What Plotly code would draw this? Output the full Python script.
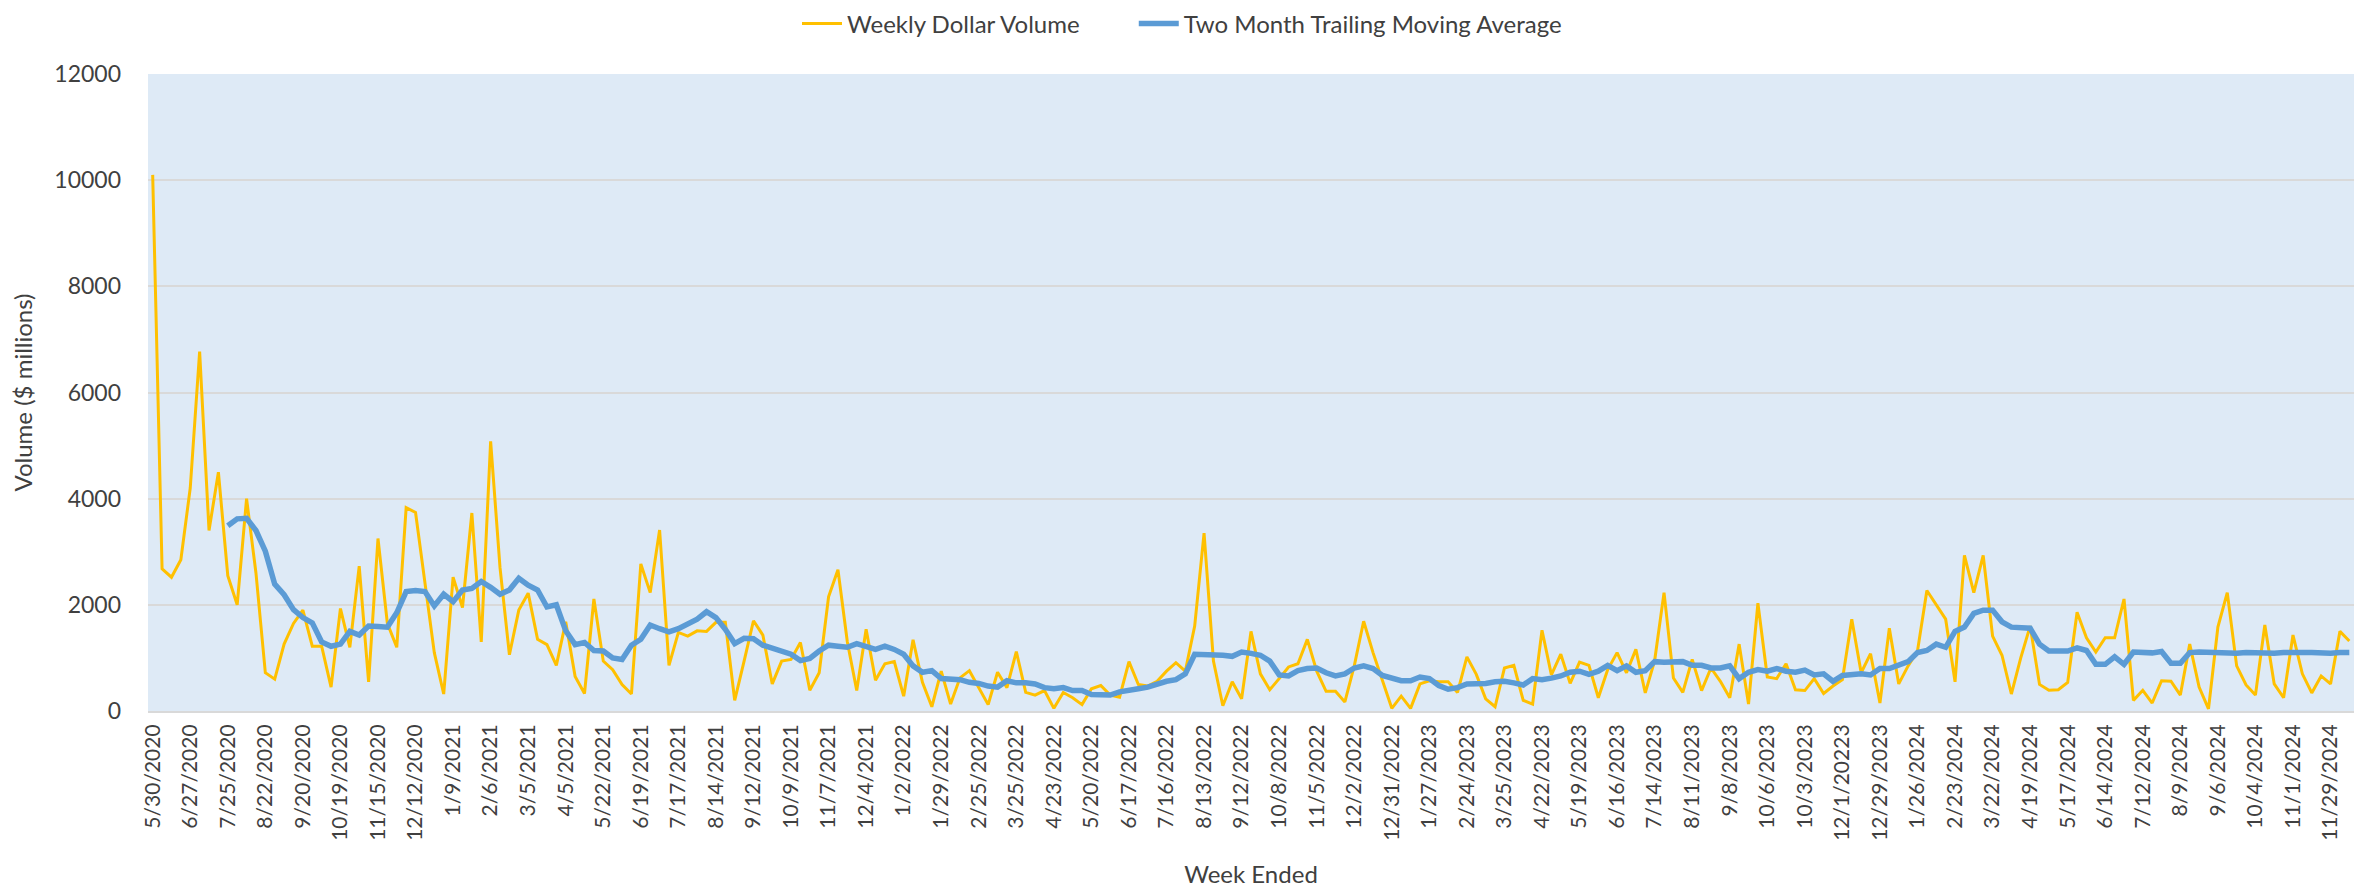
import plotly.graph_objects as go

# Tick labels (every 4th week)
tick_labels = [
    "5/30/2020", "6/27/2020", "7/25/2020", "8/22/2020", "9/20/2020", "10/19/2020",
    "11/15/2020", "12/12/2020", "1/9/2021", "2/6/2021", "3/5/2021", "4/5/2021",
    "5/22/2021", "6/19/2021", "7/17/2021", "8/14/2021", "9/12/2021", "10/9/2021",
    "11/7/2021", "12/4/2021", "1/2/2022", "1/29/2022", "2/25/2022", "3/25/2022",
    "4/23/2022", "5/20/2022", "6/17/2022", "7/16/2022", "8/13/2022", "9/12/2022",
    "10/8/2022", "11/5/2022", "12/2/2022", "12/31/2022", "1/27/2023", "2/24/2023",
    "3/25/2023", "4/22/2023", "5/19/2023", "6/16/2023", "7/14/2023", "8/11/2023",
    "9/8/2023", "10/6/2023", "10/3/2023", "12/1/20223", "12/29/2023", "1/26/2024",
    "2/23/2024", "3/22/2024", "4/19/2024", "5/17/2024", "6/14/2024", "7/12/2024",
    "8/9/2024", "9/6/2024", "10/4/2024", "11/1/2024", "11/29/2024",
]

weekly_volume = [
    10100, 2680, 2520, 2850, 4200, 6770, 3400, 4500, 2550, 2000,
    4000, 2600, 720, 600, 1260, 1650, 1900, 1220, 1220, 450,
    1930, 1200, 2730, 550, 3250, 1650, 1200, 3830, 3740, 2450,
    1100, 320, 2520, 1950, 3730, 1300, 5080, 2700, 1060, 1900,
    2220, 1350, 1250, 860, 1680, 650, 330, 2110, 940, 780,
    500, 320, 2770, 2230, 3410, 860, 1480, 1410, 1510, 1500,
    1670, 1670, 200, 940, 1700, 1430, 510, 940, 970, 1290,
    390, 720, 2150, 2660, 1300, 385, 1540, 580, 890, 930,
    280, 1340, 540, 80, 750, 130, 625, 760, 435, 120,
    730, 440, 1120, 350, 300, 385, 50, 350, 250, 120,
    420, 480, 300, 260, 930, 500, 470, 560, 750, 910,
    750, 1600, 3350, 940, 100, 550, 230, 1500, 700, 400,
    610, 830, 890, 1350, 750, 370, 370, 170, 850, 1690,
    1100, 590, 50, 280, 50, 510, 570, 550, 550, 350,
    1020, 690, 230, 80, 810, 860, 200, 130, 1520, 680,
    1070, 520, 920, 860, 250, 780, 1100, 720, 1160, 340,
    950, 2230, 620, 350, 970, 385, 810, 560, 250, 1260,
    130, 2030, 640, 610, 890, 400, 385, 610, 330, 470,
    590, 1730, 720, 1080, 150, 1560, 510, 850, 1130, 2270,
    2010, 1730, 550, 2930, 2230, 2930, 1410, 1050, 320, 1000,
    1600, 500, 390, 400, 540, 1860, 1380, 1110, 1380, 1380,
    2110, 200, 390, 150, 570, 560, 300, 1260, 450, 40,
    1580, 2230, 850, 490, 300, 1620, 510, 250, 1430, 700,
    340, 660, 510, 1500, 1320,
]

moving_average = [
    None, None, None, None, None, None, None, None, 3490, 3620,
    3630, 3400, 3010, 2390, 2190, 1910, 1760, 1660, 1300, 1220,
    1260, 1500, 1430, 1600, 1590, 1580, 1850, 2250, 2270, 2250,
    1980, 2200, 2060, 2280, 2310, 2440, 2330, 2200, 2280, 2500,
    2370, 2280, 1960, 2000, 1510, 1250, 1290, 1140, 1130, 1000,
    970, 1240, 1350, 1620, 1550, 1490, 1550, 1630, 1730, 1870,
    1760, 1540, 1270, 1370, 1360, 1240, 1180, 1120, 1070, 950,
    990, 1130, 1240, 1220, 1200, 1270, 1220, 1160, 1220, 1160,
    1070, 850, 730, 760, 610, 610, 590, 540, 520, 470,
    450, 570, 530, 530, 510, 440, 420, 440, 385, 385,
    310, 305, 300, 360, 400, 420, 450, 510, 560, 590,
    700, 1070, 1070, 1050, 1050, 1030, 1110, 1085, 1050, 940,
    680, 660, 760, 800, 810, 720, 660, 700, 810, 850,
    800, 670, 610, 570, 570, 640, 610, 480, 410, 440,
    510, 510, 520, 550, 560, 530, 490, 610, 590, 620,
    660, 730, 750, 690, 750, 860, 760, 850, 730, 760,
    930, 920, 920, 930, 860, 860, 810, 810, 850, 610,
    730, 780, 750, 800, 750, 730, 770, 680, 700, 560,
    670, 680, 700, 680, 800, 800, 860, 930, 1100, 1140,
    1260, 1200, 1500, 1580, 1840, 1900, 1900, 1680, 1580, 1570,
    1560, 1260, 1130, 1130, 1130, 1190, 1140, 880, 880, 1020,
    880, 1110, 1090, 1095, 1120, 900, 900, 1100, 1110, 1100,
    1090, 1090, 1090, 1100, 1090, 1090, 1090, 1100, 1090, 1100,
    1100, 1090, 1090, 1100, 1100,
]

series_names = ["Weekly Dollar Volume", "Two Month Trailing Moving Average"]

week_index = list(range(len(weekly_volume)))
tick_positions = week_index[::4][:len(tick_labels)]

FONT = "Lato"
TEXT = "#404040"
GAP = "\u00a0" * 8

fig = go.Figure()
fig.add_trace(go.Scatter(
    x=week_index, y=weekly_volume, mode="lines", name=series_names[0] + GAP,
    line=dict(color="#FFC000", width=3),
))
fig.add_trace(go.Scatter(
    x=week_index, y=moving_average, mode="lines", name=series_names[1],
    line=dict(color="#5B9BD5", width=5.5),
))

# page body has an 8px margin: figure is sized/offset to compensate
fig.update_layout(
    width=2348, height=880,
    margin=dict(l=140, r=2, t=66, b=177, autoexpand=False),
    paper_bgcolor="white",
    plot_bgcolor="#DEEAF6",
    font=dict(family=FONT, size=24, color=TEXT),
    showlegend=True,
    legend=dict(
        orientation="h", x=0.5, xref="container", xanchor="center",
        y=1.0785, yref="paper", yanchor="middle",
        font=dict(family=FONT, size=24, color=TEXT), itemwidth=40,
        bgcolor="rgba(0,0,0,0)",
    ),
    xaxis=dict(
        range=[-0.5, len(weekly_volume) - 0.5], automargin=False,
        tickmode="array", tickvals=tick_positions, ticktext=tick_labels,
        tickangle=-90, showgrid=False, zeroline=False,
        showline=True, linecolor="#D9D9D9", linewidth=2,
        tickfont=dict(family=FONT, size=21, color=TEXT),
        title=dict(text="Week Ended", font=dict(family=FONT, size=24, color=TEXT), standoff=37),
        ticks="", ticklabelstandoff=3,
    ),
    yaxis=dict(
        range=[0, 12000], dtick=2000, tickformat="d", automargin=False,
        showgrid=True, gridcolor="#D9D9D9", gridwidth=2,
        zeroline=False, showline=False,
        tickfont=dict(family=FONT, size=23, color=TEXT),
        title=dict(text="Volume ($ millions)", font=dict(family=FONT, size=24, color=TEXT), standoff=17),
        ticks="", ticklabelstandoff=26,
    ),
)

fig.write_html("out.html")
